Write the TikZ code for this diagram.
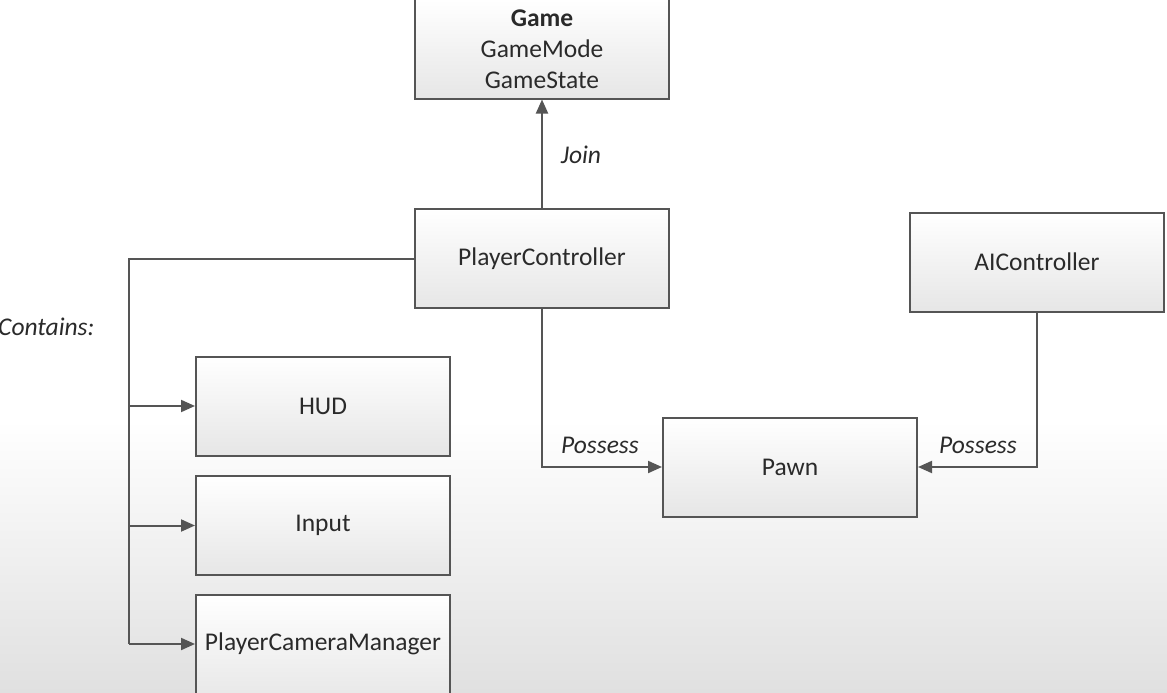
\documentclass[tikz,border=0pt]{standalone}
\usepackage{fontspec}
\setmainfont{Carlito}
\usetikzlibrary{arrows.meta}
\definecolor{edge}{HTML}{555555}
\definecolor{txt}{HTML}{2A2A2A}
\definecolor{boxbot}{HTML}{E6E6E6}
\definecolor{bgbot}{HTML}{E0E0E0}
\tikzset{
  blk/.style={draw=edge, line width=2pt, rectangle, minimum width=254pt, minimum height=99pt,
    top color=white, bottom color=boxbot, text=txt, align=center,
    font=\fontsize{25.5}{31}\selectfont, inner sep=0pt},
  arr/.style={draw=edge, line width=2pt, -{Triangle[length=14pt,width=12pt]}},
  ln/.style={draw=edge, line width=2pt},
  lbl/.style={text=txt, font=\fontsize{25.5}{30}\selectfont\itshape, inner sep=0pt}
}
\begin{document}
\begin{tikzpicture}[x=1pt,y=-1pt]
\useasboundingbox (0,0) rectangle (1167,693);
\clip (0,0) rectangle (1167,693);
\fill[white] (0,0) rectangle (1167,420);
\shade[top color=white, bottom color=bgbot] (0,420) rectangle (1167,693);

\node[blk] (game) at (542,49) {\textbf{Game}\\GameMode\\GameState};
\node[blk] (pc) at (542,258.5) {PlayerController};
\node[blk] (ai) at (1037,262) {AIController};
\node[blk] (pawn) at (790,467) {Pawn};
\node[blk] (hud) at (323,406) {HUD};
\node[blk] (input) at (323,525.5) {Input};
\node[blk, minimum height=110pt] (pcm) at (323,650) {};
\node[text=txt, font=\fontsize{25.5}{30}\selectfont, inner sep=0pt] (pcmtext) at (323,644) {PlayerCameraManager};

\coordinate (bot) at (129,644);
\draw[ln] (pc.west) -| (bot);
\draw[arr] (hud.west -| bot) -- (hud.west);
\draw[arr] (input.west -| bot) -- (input.west);
\draw[arr] (bot) -- (pcm.west |- bot);

\draw[arr] (pc.north) -- (game.south);
\draw[arr] (pc.south) |- (pawn.west);
\draw[arr] (ai.south) |- (pawn.east);

\node[lbl] (join) at (581,155) {Join};
\node[lbl] (poss1) at (600,445) {Possess};
\node[lbl] (poss2) at (978,445) {Possess};
\node[lbl, anchor=west] (contains) at (-2,327) {Contains:};
\end{tikzpicture}
\end{document}
